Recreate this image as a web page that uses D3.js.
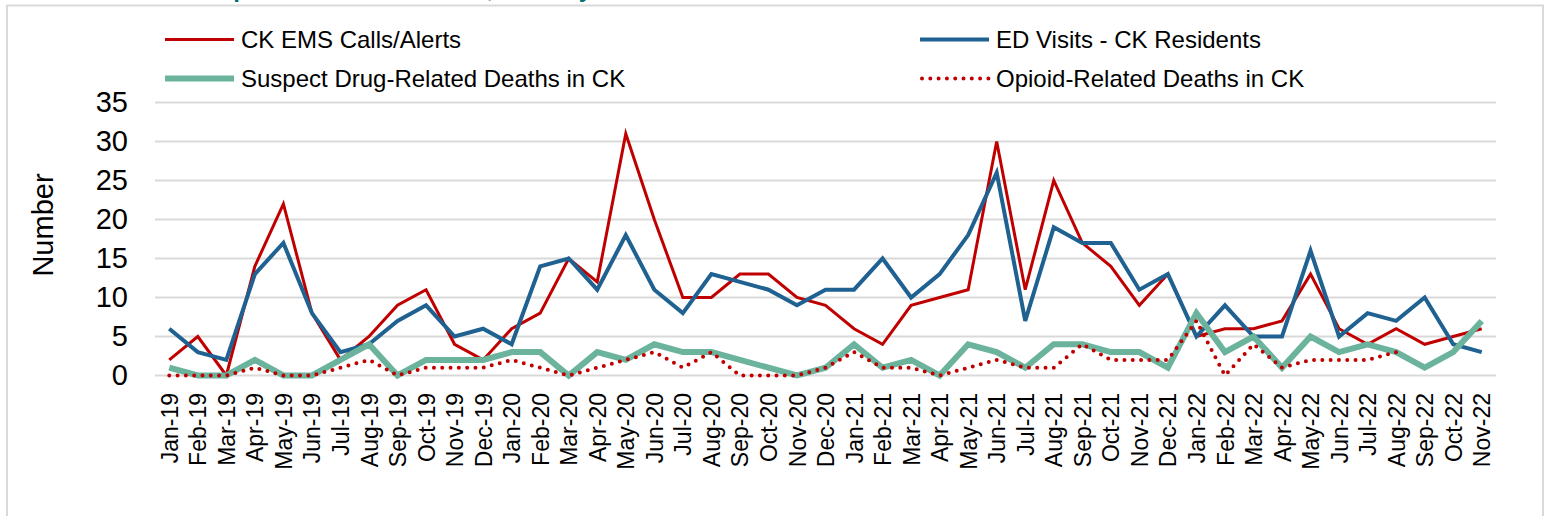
<!DOCTYPE html>
<html>
<head>
<meta charset="utf-8">
<script src="https://cdn.jsdelivr.net/npm/d3@7"></script>
<style>
  body { margin: 0; background: #fff; }
  text { font-family: "Liberation Sans", Arial, sans-serif; }
</style>
</head>
<body>
<div id="chart"></div>
<script>
// Months shown on the x axis
const months = ["Jan-19","Feb-19","Mar-19","Apr-19","May-19","Jun-19","Jul-19","Aug-19","Sep-19","Oct-19","Nov-19","Dec-19",
  "Jan-20","Feb-20","Mar-20","Apr-20","May-20","Jun-20","Jul-20","Aug-20","Sep-20","Oct-20","Nov-20","Dec-20",
  "Jan-21","Feb-21","Mar-21","Apr-21","May-21","Jun-21","Jul-21","Aug-21","Sep-21","Oct-21","Nov-21","Dec-21",
  "Jan-22","Feb-22","Mar-22","Apr-22","May-22","Jun-22","Jul-22","Aug-22","Sep-22","Oct-22","Nov-22"];

// Series values
const emsCalls = [2,5,0,14,22,8,2,5,9,11,4,2, 6,8,15,12,31,20,10,10,13,13,10,9, 6,4,9,10,11,30,11,25,17,14,9,13, 5,6,6,7,13,6,4,6,4,5,6];
const edVisits = [6,3,2,13,17,8,3,4,7,9,5,6, 4,14,15,11,18,11,8,13,12,11,9,11, 11,15,10,13,18,26,7,19,17,17,11,13, 5,9,5,5,16,5,8,7,10,4,3];
const suspectDeaths = [1,0,0,2,0,0,2,4,0,2,2,2, 3,3,0,3,2,4,3,3,2,1,0,1, 4,1,2,0,4,3,1,4,4,3,3,1, 8,3,5,1,5,3,4,3,1,3,7];
const opioidDeaths = [0,0,0,1,0,0,1,2,0,1,1,1, 2,1,0,1,2,3,1,3,0,0,0,1, 3,1,1,0,1,2,1,1,4,2,2,2, 7,0,4,1,2,2,2,3,null,null,null];

const yTicks = [0,5,10,15,20,25,30,35];

const width = 1546;
const height = 516;

const svg = d3.select("#chart")
    .append("svg")
    .attr("width", width)
    .attr("height", height);

// title, mostly cropped off above the frame
svg.append("text")
    .attr("x", 592)
    .attr("y", -3)
    .attr("text-anchor", "end")
    .attr("fill", "#00706E")
    .attr("font-weight", "bold")
    .attr("font-size", 24)
    .text("Central Kitsap Overdose Indicators, Monthly");

// chart frame
svg.append("rect")
    .attr("x", 7)
    .attr("y", 5.5)
    .attr("width", 1536)
    .attr("height", 530)
    .attr("fill", "#fff")
    .attr("stroke", "#D9D9D9")
    .attr("stroke-width", 2);

const x = d3.scalePoint()
    .domain(months)
    .range([155, 1496])
    .padding(0.5);

const y = d3.scaleLinear()
    .domain([0, 35])
    .range([375.5, 102.5]);

// gridlines
svg.append("g")
    .selectAll("line")
    .data(yTicks)
    .join("line")
    .attr("x1", 155)
    .attr("x2", 1496)
    .attr("y1", d => y(d))
    .attr("y2", d => y(d))
    .attr("stroke", "#D9D9D9")
    .attr("stroke-width", 2);

// y axis labels
const yAxis = svg.append("g")
    .attr("transform", "translate(128,0)")
    .call(d3.axisLeft(y).tickValues(yTicks).tickSize(0).tickPadding(0));
yAxis.select(".domain").remove();
yAxis.selectAll("text")
    .attr("font-family", "Liberation Sans, Arial, sans-serif")
    .attr("font-size", 29)
    .attr("fill", "#000");

svg.append("text")
    .attr("transform", "translate(53,225) rotate(-90)")
    .attr("text-anchor", "middle")
    .attr("font-size", 29)
    .attr("fill", "#000")
    .text("Number");

// x axis labels
const xAxis = svg.append("g")
    .attr("transform", "translate(0,393)")
    .call(d3.axisBottom(x).tickSize(0).tickPadding(0));
xAxis.select(".domain").remove();
xAxis.selectAll("text")
    .attr("font-family", "Liberation Sans, Arial, sans-serif")
    .attr("font-size", 23)
    .attr("fill", "#000")
    .attr("text-anchor", "end")
    .attr("dy", "0.35em")
    .attr("dx", 0)
    .attr("y", 0)
    .attr("transform", "rotate(-90)");

const series = [
    { name: "CK EMS Calls/Alerts", values: emsCalls, color: "#C00000", w: 3, dash: null },
    { name: "ED Visits - CK Residents", values: edVisits, color: "#1F6191", w: 4, dash: null },
    { name: "Suspect Drug-Related Deaths in CK", values: suspectDeaths, color: "#6BB39D", w: 6, dash: null },
    { name: "Opioid-Related Deaths in CK", values: opioidDeaths, color: "#C00000", w: 4, dash: "0,8.3" }
];

const line = d3.line()
    .defined(d => d[1] !== null)
    .x(d => x(d[0]))
    .y(d => y(d[1]));

svg.append("g")
    .selectAll("path")
    .data(series)
    .join("path")
    .attr("d", s => line(months.map((m, i) => [m, s.values[i]])))
    .attr("fill", "none")
    .attr("stroke", s => s.color)
    .attr("stroke-width", s => s.w)
    .attr("stroke-linejoin", s => s.dash ? "round" : "miter")
    .attr("stroke-linecap", s => s.dash ? "round" : "butt")
    .attr("stroke-dasharray", s => s.dash);

// legend, two rows of two
const legendPos = [[165, 39.5], [920, 39.5], [165, 78.5], [920, 78.5]];
const legend = svg.append("g")
    .selectAll("g")
    .data(series)
    .join("g")
    .attr("transform", (d, i) => `translate(${legendPos[i][0]},${legendPos[i][1]})`);

legend.append("line")
    .attr("x1", d => d.dash ? 2 : 0)
    .attr("x2", 69)
    .attr("stroke", d => d.color)
    .attr("stroke-width", d => d.w)
    .attr("stroke-linecap", d => d.dash ? "round" : "butt")
    .attr("stroke-dasharray", d => d.dash);

legend.append("text")
    .attr("x", 76)
    .attr("dy", "0.35em")
    .attr("font-size", 24)
    .attr("fill", "#000")
    .text(d => d.name);
</script>
</body>
</html>
